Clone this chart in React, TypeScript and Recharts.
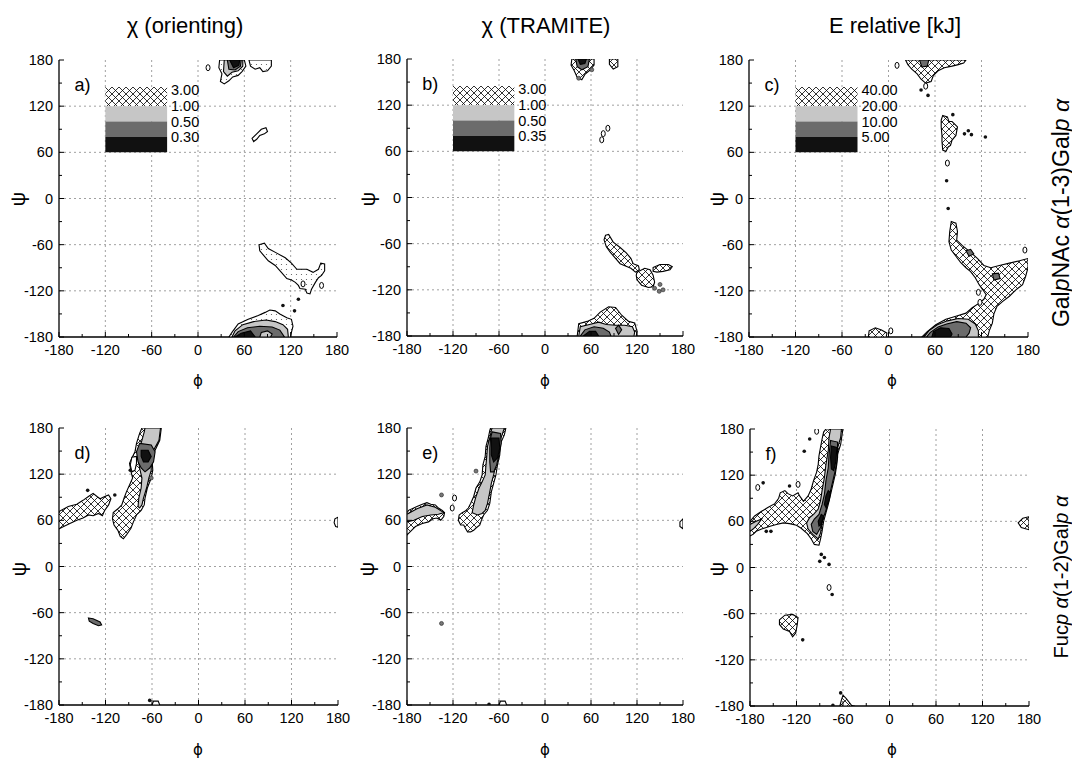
import React from 'react'
import {
  ScatterChart,
  Scatter,
  XAxis,
  YAxis,
  CartesianGrid,
  ReferenceArea,
  Polygon,
} from 'recharts'

type Pt = [number, number]

// axes
const AXIS_TICKS = [-180, -150, -120, -90, -60, -30, 0, 30, 60, 90, 120, 150, 180]
const GRID_LINES = [-120, -60, 0, 60, 120]

const TITLES = ['χ (orienting)', 'χ (TRAMITE)', 'E relative [kJ]']
const TAGS = ['a)', 'b)', 'c)', 'd)', 'e)', 'f)']

// legend (top row only)
const LEGEND_A = ['3.00', '1.00', '0.50', '0.30']
const LEGEND_B = ['3.00', '1.00', '0.50', '0.35']
const LEGEND_C = ['40.00', '20.00', '10.00', '5.00']
const LEGEND_LABEL_Y = [141, 120, 100, 80]
const LEGEND_BANDS: Pt[] = [[120, 145], [100, 120], [80, 100], [60, 80]]
const LEGEND_FILLS = ['hatch', 'light', 'dark', 'black']

// ---- a) chi orienting, GalNAc(1-3)Gal ----
const aTopOuter: Pt[] = [[28,180],[60,180],[62,172],[57,165],[52,160],[45,158],[40,153],[34,149],[29,152],[31,162],[27,170]]
const aTopLight: Pt[] = [[34,180],[58,180],[58,172],[52,166],[44,164],[38,159],[33,165]]
const aTopDark: Pt[] = [[38,180],[56,180],[55,172],[48,167],[40,168]]
const aTopBlack: Pt[] = [[41,180],[54,180],[53,173],[46,170]]
const aTopRight: Pt[] = [[66,180],[95,180],[95,172],[90,166],[84,165],[80,170],[74,168],[68,172]]
const aLoop: Pt[] = [[72,74],[70,78],[76,84],[82,90],[88,92],[90,87],[86,84],[80,82],[76,77]]
const aMid: Pt[] = [[79,-60],[86,-58],[91,-65],[102,-71],[113,-77],[121,-84],[128,-92],[141,-92],[149,-96],[156,-92],[159,-84],[164,-85],[164,-94],[160,-100],[156,-103],[152,-109],[147,-118],[145,-124],[141,-123],[139,-118],[132,-117],[130,-113],[126,-109],[121,-106],[115,-104],[108,-96],[100,-87],[91,-81],[85,-74],[80,-68]]
const aBotOuter: Pt[] = [[40,-180],[44,-174],[52,-163],[65,-157],[78,-152],[87,-148],[93,-145],[100,-146],[106,-150],[115,-155],[121,-157],[123,-166],[121,-174],[120,-180]]
const aBotLight: Pt[] = [[44,-180],[48,-172],[58,-164],[72,-160],[88,-158],[100,-160],[110,-164],[116,-170],[117,-180]]
const aBotDark: Pt[] = [[46,-180],[52,-173],[64,-168],[80,-166],[96,-167],[106,-171],[112,-180]]
const aBotBlack: Pt[] = [[48,-180],[56,-175],[68,-172],[74,-180]]
const aBotHole: Pt[] = [[80,-180],[82,-174],[90,-172],[96,-176],[94,-180]]
const aBlackDots: Pt[] = [[110,-139],[125,-146],[130,-131]]
const aOpenDots: Pt[] = [[13,170],[160,-113],[136,-111]]

// ---- b) chi TRAMITE, GalNAc(1-3)Gal ----
const bTopOuter: Pt[] = [[35,180],[64,180],[64,172],[58,165],[52,160],[48,153],[42,156],[38,165],[34,172]]
const bTopDark: Pt[] = [[40,180],[58,180],[56,170],[48,166],[42,170]]
const bTopBlack: Pt[] = [[43,180],[54,180],[52,174],[46,173]]
const bTopRight: Pt[] = [[84,180],[95,180],[95,170],[89,167],[84,173]]
const bChainA: Pt[] = [[79,-49],[83,-48],[89,-58],[98,-65],[106,-72],[112,-79],[115,-86],[122,-89],[123,-94],[118,-97],[112,-92],[105,-89],[98,-86],[92,-79],[85,-71],[80,-64],[77,-55]]
const bChainB: Pt[] = [[120,-97],[130,-92],[137,-94],[141,-101],[143,-110],[141,-116],[135,-117],[126,-114],[120,-107],[119,-101]]
const bChainC: Pt[] = [[141,-91],[150,-87],[161,-87],[166,-90],[163,-94],[154,-96],[146,-97],[141,-96]]
const bBotOuter: Pt[] = [[42,-180],[44,-164],[55,-161],[64,-157],[72,-149],[83,-142],[92,-143],[100,-153],[109,-161],[117,-163],[120,-174],[119,-180]]
const bBotLight: Pt[] = [[44,-180],[46,-168],[58,-165],[70,-162],[80,-165],[92,-166],[104,-166],[114,-168],[117,-175],[116,-180]]
const bBotDark: Pt[] = [[46,-180],[52,-172],[64,-168],[76,-170],[84,-175],[86,-180]]
const bBotDark2: Pt[] = [[92,-170],[96,-166],[100,-172],[96,-178]]
const bBotBlack: Pt[] = [[50,-180],[58,-174],[66,-174],[70,-180]]
const bGrayDots: Pt[] = [[61,166],[44,155],[143,-118],[150,-113],[149,-122],[154,-120]]
const bOpenDots: Pt[] = [[74,75],[76,83],[82,90]]

// ---- c) E relative, GalNAc(1-3)Gal ----
const cTopOuter: Pt[] = [[22,180],[25,174],[30,168],[37,162],[42,155],[48,150],[55,152],[58,160],[64,166],[72,170],[82,172],[90,174],[97,176],[100,180]]
const cTopGray: Pt[] = [[40,180],[52,180],[50,172],[43,171]]
const cMid: Pt[] = [[70,108],[76,106],[78,100],[82,100],[89,93],[87,82],[82,76],[80,69],[77,67],[74,61],[70,63],[69,74],[69,82],[68,93],[68,102]]
const cLow: Pt[] = [[81,-30],[87,-32],[89,-43],[88,-54],[95,-61],[106,-70],[115,-78],[123,-87],[132,-90],[143,-87],[156,-84],[169,-81],[180,-78],[180,-90],[177,-101],[173,-112],[164,-119],[156,-127],[147,-134],[140,-140],[136,-150],[134,-162],[130,-172],[128,-180],[43,-180],[50,-173],[61,-164],[74,-157],[87,-153],[100,-149],[108,-142],[117,-136],[123,-131],[126,-125],[122,-119],[117,-112],[112,-103],[106,-95],[100,-90],[93,-83],[87,-75],[81,-67],[78,-56],[79,-43]]
const cLowLight: Pt[] = [[46,-180],[52,-172],[63,-164],[76,-159],[90,-156],[103,-157],[112,-163],[116,-172],[116,-180]]
const cLowDark: Pt[] = [[49,-180],[54,-174],[64,-167],[75,-163],[88,-160],[100,-162],[106,-168],[104,-175],[100,-180]]
const cLowBlack: Pt[] = [[56,-180],[58,-173],[67,-168],[78,-169],[82,-176],[80,-180]]
const cPatch1: Pt[] = [[100,-68],[106,-66],[110,-72],[104,-75]]
const cPatch2: Pt[] = [[134,-98],[142,-97],[144,-104],[136,-106]]
const cLeftLoop: Pt[] = [[-26,-180],[-25,-172],[-17,-168],[-9,-171],[-2,-175],[-3,-180]]
const cBlackDots: Pt[] = [[42,141],[51,134],[83,109],[98,84],[103,88],[107,83],[75,23],[125,80],[77,-13]]
const cOpenDots: Pt[] = [[11,173],[48,146],[76,46],[3,-172],[116,-122],[118,-135],[176,-67]]

// ---- d) chi orienting, Fuc(1-2)Gal ----
const dOuter: Pt[] = [[-48,180],[-50,164],[-56,151],[-60,141],[-59,125],[-61,115],[-66,102],[-69,89],[-70,80],[-74,73],[-80,67],[-84,58],[-87,50],[-93,41],[-97,36],[-101,39],[-104,47],[-109,54],[-111,62],[-110,70],[-104,75],[-99,80],[-96,89],[-93,97],[-89,106],[-85,115],[-87,123],[-89,134],[-85,143],[-82,149],[-80,160],[-76,173],[-73,180]]
const dLight: Pt[] = [[-49,180],[-51,164],[-58,151],[-61,141],[-61,125],[-64,115],[-67,102],[-71,89],[-73,80],[-76,76],[-78,78],[-77,89],[-74,102],[-73,115],[-76,128],[-78,141],[-77,151],[-73,164],[-70,175],[-69,180]]
const dDark: Pt[] = [[-76,160],[-61,158],[-56,149],[-58,136],[-63,128],[-69,123],[-74,128],[-78,136],[-80,149]]
const dBlack: Pt[] = [[-74,151],[-65,151],[-61,143],[-65,136],[-71,136],[-74,143]]
const dPocket: Pt[] = [[-86,142],[-80,143],[-80,134],[-82,125],[-86,123],[-88,132]]
const dLeft: Pt[] = [[-180,69],[-179,72],[-168,78],[-157,81],[-149,86],[-142,91],[-136,95],[-131,91],[-127,88],[-121,91],[-116,93],[-113,88],[-116,80],[-121,73],[-124,66],[-129,69],[-136,66],[-142,67],[-149,63],[-157,60],[-166,56],[-174,52],[-180,49]]
const dSmall: Pt[] = [[-142,-67],[-136,-68],[-127,-72],[-125,-76],[-129,-77],[-136,-74],[-141,-71]]
const dEdge: Pt[] = [[180,64],[176,62],[175,57],[177,52],[180,51]]
const dBottomLoop: Pt[] = [[-60,-180],[-58,-175],[-52,-175],[-50,-180]]
const dBlackDots: Pt[] = [[-143,99],[-108,93],[-88,125],[-63,-174]]
const dGrayDots: Pt[] = [[-61,115]]

// ---- e) chi TRAMITE, Fuc(1-2)Gal ----
const eOuter: Pt[] = [[-51,180],[-53,171],[-58,160],[-59,145],[-62,132],[-64,119],[-67,108],[-70,97],[-72,82],[-75,73],[-80,67],[-83,60],[-85,54],[-90,50],[-93,47],[-97,45],[-101,45],[-104,50],[-106,54],[-110,54],[-113,60],[-112,67],[-108,70],[-104,72],[-100,76],[-97,82],[-93,91],[-90,102],[-85,110],[-82,119],[-81,132],[-78,143],[-77,156],[-74,167],[-72,177],[-71,180]]
const eLight: Pt[] = [[-53,180],[-56,171],[-60,160],[-61,145],[-64,132],[-67,119],[-70,108],[-72,97],[-75,82],[-78,73],[-82,69],[-88,67],[-95,70],[-93,80],[-90,91],[-86,102],[-82,110],[-78,119],[-77,132],[-76,143],[-75,156],[-72,167],[-70,177],[-69,180]]
const eDark: Pt[] = [[-69,175],[-58,173],[-57,160],[-60,145],[-63,132],[-67,123],[-71,123],[-72,136],[-72,154],[-71,167]]
const eBlack: Pt[] = [[-70,167],[-60,167],[-59,154],[-62,141],[-67,136],[-70,145],[-70,158]]
const eLeft: Pt[] = [[-180,70],[-178,73],[-167,78],[-160,81],[-154,83],[-149,81],[-143,80],[-139,76],[-134,73],[-131,70],[-132,65],[-136,60],[-141,63],[-146,62],[-152,58],[-160,56],[-169,52],[-176,45],[-180,41]]
const eLeftLight: Pt[] = [[-180,68],[-167,75],[-154,80],[-143,77],[-132,70],[-139,68],[-149,67],[-160,65],[-171,60],[-180,58]]
const eEdge: Pt[] = [[180,62],[176,58],[176,52],[180,49]]
const eBottomLoop: Pt[] = [[-60,-180],[-58,-175],[-52,-175],[-50,-180]]
const eOpenDots: Pt[] = [[-118,89],[-121,76]]
const eGrayDots: Pt[] = [[-135,93],[-90,124],[-135,-74]]
const eBlackDots: Pt[] = [[-73,-179]]

// ---- f) E relative, Fuc(1-2)Gal ----
const fOuter: Pt[] = [[-82,180],[-60,180],[-61,174],[-63,160],[-67,147],[-68,134],[-70,121],[-73,108],[-76,95],[-79,82],[-82,71],[-85,60],[-87,47],[-89,37],[-91,29],[-97,30],[-101,37],[-106,44],[-114,51],[-120,55],[-129,57],[-137,58],[-146,56],[-153,54],[-159,52],[-165,50],[-172,47],[-176,43],[-180,41],[-180,60],[-174,67],[-165,73],[-157,78],[-148,83],[-143,90],[-141,97],[-135,100],[-131,96],[-125,93],[-118,97],[-116,93],[-111,86],[-105,93],[-101,102],[-98,113],[-94,124],[-92,134],[-91,145],[-89,156],[-87,167],[-85,176]]
const fLight: Pt[] = [[-76,180],[-62,180],[-63,169],[-68,152],[-70,134],[-72,121],[-75,108],[-78,95],[-82,82],[-85,71],[-87,58],[-89,45],[-92,37],[-99,43],[-105,50],[-107,58],[-103,65],[-98,69],[-92,76],[-89,87],[-87,100],[-84,117],[-82,134],[-79,152],[-78,169]]
const fDark: Pt[] = [[-76,165],[-67,163],[-67,143],[-70,126],[-73,113],[-76,100],[-79,87],[-82,74],[-86,63],[-89,52],[-94,43],[-99,47],[-101,56],[-97,63],[-91,69],[-87,82],[-84,95],[-82,113],[-79,130],[-78,147]]
const fBlack1: Pt[] = [[-75,158],[-68,156],[-69,139],[-72,126],[-75,128],[-76,143]]
const fBlack2: Pt[] = [[-79,100],[-76,97],[-78,87],[-82,78],[-84,82],[-82,93]]
const fBlack3: Pt[] = [[-88,69],[-85,67],[-88,56],[-91,54],[-92,60]]
const fLeftGray: Pt[] = [[-180,56],[-172,60],[-165,63],[-170,56],[-176,50],[-180,47]]
const fLowLeft: Pt[] = [[-142,-68],[-135,-62],[-125,-61],[-118,-65],[-119,-74],[-121,-85],[-125,-90],[-129,-83],[-137,-80],[-142,-74]]
const fBottom: Pt[] = [[-64,-180],[-62,-172],[-60,-166],[-56,-170],[-49,-179],[-45,-180]]
const fEdge: Pt[] = [[180,66],[172,64],[166,58],[170,52],[180,49]]
const fBlackDots: Pt[] = [[-110,151],[-103,167],[-129,106],[-90,8],[-84,13],[-63,-163],[-73,-179],[-78,4],[-74,-35],[-159,47],[-153,47],[-163,110],[-112,-94],[-88,17]]
const fOpenDots: Pt[] = [[-170,104],[-118,108],[-78,-26],[-94,177]]

const FILL: Record<string, string> = {
  hatch: 'url(#xhatch)',
  stipple: 'url(#stipple)',
  light: '#c6c6c6',
  dark: '#6c6c6c',
  black: '#111',
  white: '#fff',
}

type Layer = [Pt[], string]
interface PanelCfg {
  left: number
  top: number
  w: number
  h: number
  legend?: string[]
  psiX: number
  layers: Layer[]
  black: Pt[]
  open: Pt[]
  gray: Pt[]
}

const PANELS: PanelCfg[] = [
  {
    left: 59, top: 60, w: 278, h: 277, legend: LEGEND_A, psiX: 18,
    layers: [
      [aTopOuter, 'stipple'], [aTopLight, 'light'], [aTopDark, 'dark'], [aTopBlack, 'black'],
      [aTopRight, 'stipple'], [aLoop, 'white'], [aMid, 'stipple'],
      [aBotOuter, 'stipple'], [aBotLight, 'light'], [aBotDark, 'dark'], [aBotBlack, 'black'], [aBotHole, 'light'],
    ],
    black: aBlackDots, open: aOpenDots, gray: [],
  },
  {
    left: 407, top: 59, w: 276, h: 277, legend: LEGEND_B, psiX: 368,
    layers: [
      [bTopOuter, 'hatch'], [bTopDark, 'dark'], [bTopBlack, 'black'], [bTopRight, 'hatch'],
      [bChainA, 'hatch'], [bChainB, 'hatch'], [bChainC, 'hatch'],
      [bBotOuter, 'hatch'], [bBotLight, 'light'], [bBotDark, 'dark'], [bBotDark2, 'dark'], [bBotBlack, 'black'],
    ],
    black: [], open: bOpenDots, gray: bGrayDots,
  },
  {
    left: 749, top: 60, w: 279, h: 277, legend: LEGEND_C, psiX: 717,
    layers: [
      [cTopOuter, 'hatch'], [cTopGray, 'dark'], [cMid, 'hatch'],
      [cLow, 'hatch'], [cLowLight, 'light'], [cLowDark, 'dark'], [cLowBlack, 'black'],
      [cPatch1, 'dark'], [cPatch2, 'dark'], [cLeftLoop, 'hatch'],
    ],
    black: cBlackDots, open: cOpenDots, gray: [],
  },
  {
    left: 59, top: 428, w: 279, h: 277, psiX: 19,
    layers: [
      [dOuter, 'hatch'], [dLight, 'light'], [dDark, 'dark'], [dBlack, 'black'], [dPocket, 'white'],
      [dLeft, 'hatch'], [dSmall, 'dark'], [dEdge, 'white'], [dBottomLoop, 'white'],
    ],
    black: dBlackDots, open: [], gray: dGrayDots,
  },
  {
    left: 407, top: 428, w: 276, h: 277, psiX: 367,
    layers: [
      [eOuter, 'hatch'], [eLight, 'light'], [eDark, 'dark'], [eBlack, 'black'],
      [eLeft, 'hatch'], [eLeftLight, 'light'], [eEdge, 'white'], [eBottomLoop, 'white'],
    ],
    black: eBlackDots, open: eOpenDots, gray: eGrayDots,
  },
  {
    left: 750, top: 429, w: 279, h: 277, psiX: 717,
    layers: [
      [fOuter, 'hatch'], [fLight, 'light'], [fDark, 'dark'], [fBlack1, 'black'], [fBlack2, 'black'], [fBlack3, 'black'],
      [fLeftGray, 'light'], [fLowLeft, 'hatch'], [fBottom, 'hatch'], [fEdge, 'hatch'],
    ],
    black: fBlackDots, open: fOpenDots, gray: [],
  },
]

const Y_AXIS_W = 45
const X_AXIS_H = 30
const M_TOP = 8
const M_RIGHT = 16
const FONT = '"Liberation Sans", Arial, Helvetica, sans-serif'
const FRAME = { stroke: '#000', strokeWidth: 1.3 }

const toXY = (pts: Pt[]) => pts.map(([x, y]) => ({ x, y }))

const isMajor = (v: number) => v % 60 === 0

const BottomTick = (p: any) => {
  const v = p.payload.value
  return (
    <g>
      <line x1={p.x} x2={p.x} y1={p.y} y2={p.y - (isMajor(v) ? 5 : 3)} stroke="#000" />
      {isMajor(v) && (
        <text x={p.x} y={p.y + 18} textAnchor="middle" fontSize={14.5} fill="#000">{v}</text>
      )}
    </g>
  )
}

const TopTick = (p: any) => (
  <line x1={p.x} x2={p.x} y1={p.y} y2={p.y + (isMajor(p.payload.value) ? 5 : 3)} stroke="#000" />
)

const LeftTick = (p: any) => {
  const v = p.payload.value
  return (
    <g>
      <line x1={p.x} x2={p.x + (isMajor(v) ? 5 : 3)} y1={p.y} y2={p.y} stroke="#000" />
      {isMajor(v) && (
        <text x={p.x - 6} y={p.y + 5} textAnchor="end" fontSize={14.5} fill="#000">{v}</text>
      )}
    </g>
  )
}

const RightTick = (p: any) => (
  <line x1={p.x} x2={p.x - (isMajor(p.payload.value) ? 5 : 3)} y1={p.y} y2={p.y} stroke="#000" />
)

const hidden = () => <g />

function Panel({ cfg, tag }: { cfg: PanelCfg; tag: string }) {
  const width = Y_AXIS_W + cfg.w + M_RIGHT
  const height = M_TOP + cfg.h + X_AXIS_H
  const legendLabels = (cfg.legend || []).map((label, i) => ({ x: -35, y: LEGEND_LABEL_Y[i], label }))
  return (
    <div style={{ position: 'absolute', left: cfg.left - Y_AXIS_W, top: cfg.top - M_TOP }}>
      <ScatterChart width={width} height={height} margin={{ top: M_TOP, right: M_RIGHT, bottom: 0, left: 0 }}>
        <CartesianGrid
          horizontalValues={GRID_LINES}
          verticalValues={GRID_LINES}
          stroke="#a0a0a0"
          strokeDasharray="2 3"
        />
        <XAxis dataKey="x" type="number" domain={[-180, 180]} ticks={AXIS_TICKS} interval={0}
          tickSize={0} tickMargin={0} tick={BottomTick} height={X_AXIS_H}
          axisLine={FRAME} allowDataOverflow />
        <XAxis xAxisId="top" orientation="top" dataKey="x" type="number" domain={[-180, 180]} ticks={AXIS_TICKS}
          interval={0} tickSize={0} tickMargin={0} tick={TopTick} height={0}
          axisLine={FRAME} allowDataOverflow />
        <YAxis dataKey="y" type="number" domain={[-180, 180]} ticks={AXIS_TICKS} interval={0}
          tickSize={0} tickMargin={0} tick={LeftTick} width={Y_AXIS_W}
          axisLine={FRAME} allowDataOverflow />
        <YAxis yAxisId="right" orientation="right" dataKey="y" type="number" domain={[-180, 180]} ticks={AXIS_TICKS}
          interval={0} tickSize={0} tickMargin={0} tick={RightTick} width={0}
          axisLine={FRAME} allowDataOverflow />

        {cfg.legend &&
          LEGEND_BANDS.map(([y1, y2], i) => (
            <ReferenceArea key={'lg' + i} x1={-120} x2={-40} y1={y1} y2={y2}
              fill={FILL[LEGEND_FILLS[i]]} fillOpacity={1} stroke="none" />
          ))}

        {cfg.layers.map(([pts, fill], i) => (
          <Scatter
            key={'ly' + i}
            data={toXY(pts)}
            isAnimationActive={false}
            shape={hidden}
            line={(lp: any) => (
              <Polygon points={lp.points} fill={FILL[fill]} stroke="#000" strokeWidth={1.1} />
            )}
          />
        ))}

        <Scatter data={toXY(cfg.gray)} isAnimationActive={false}
          shape={(p: any) => <circle cx={p.cx} cy={p.cy} r={2} fill="#777" stroke="#222" strokeWidth={0.6} />} />
        <Scatter data={toXY(cfg.open)} isAnimationActive={false}
          shape={(p: any) => <ellipse cx={p.cx} cy={p.cy} rx={2} ry={3} fill="#fff" stroke="#000" strokeWidth={1} />} />
        <Scatter data={toXY(cfg.black)} isAnimationActive={false}
          shape={(p: any) => <circle cx={p.cx} cy={p.cy} r={1.8} fill="#111" />} />

        <Scatter data={legendLabels} isAnimationActive={false}
          shape={(p: any) => (
            <text x={p.cx} y={p.cy + 5} fontSize={14.5} fill="#000">{p.payload.label}</text>
          )} />
        <Scatter data={[{ x: -160, y: 147, label: tag }]} isAnimationActive={false}
          shape={(p: any) => (
            <text x={p.cx} y={p.cy + 6} fontSize={18} fill="#000">{p.payload.label}</text>
          )} />
      </ScatterChart>
    </div>
  )
}

const abs = (extra: React.CSSProperties): React.CSSProperties => ({
  position: 'absolute',
  whiteSpace: 'nowrap',
  ...extra,
})

export default function App() {
  const titleX = [185, 546, 895]
  const phiX = [198, 545, 892]
  return (
    <div style={{ position: 'absolute', left: 0, top: 0, width: 1072, height: 759, background: '#fff', fontFamily: FONT, color: '#000' }}>
      <svg width={0} height={0} style={{ position: 'absolute' }}>
        <defs>
          <pattern id="xhatch" width={7} height={7} patternUnits="userSpaceOnUse">
            <rect width={7} height={7} fill="#fff" />
            <path d="M0,0 L7,7 M7,0 L0,7" stroke="#000" strokeWidth={0.8} />
          </pattern>
          <pattern id="stipple" width={5} height={5} patternUnits="userSpaceOnUse">
            <rect width={5} height={5} fill="#fff" />
            <circle cx={2.5} cy={2.5} r={0.6} fill="#555" />
          </pattern>
        </defs>
      </svg>

      {TITLES.map((t, i) => (
        <div key={t} style={abs({ left: titleX[i], top: 26, transform: 'translate(-50%,-50%)', fontSize: 22 })}>{t}</div>
      ))}

      {PANELS.map((cfg, i) => (
        <Panel key={i} cfg={cfg} tag={TAGS[i]} />
      ))}

      {PANELS.map((cfg, i) => (
        <div key={'psi' + i} style={abs({ left: cfg.psiX, top: i < 3 ? 199 : 569, transform: 'translate(-50%,-50%) rotate(-90deg)', fontSize: 20 })}>ψ</div>
      ))}
      {PANELS.map((cfg, i) => (
        <div key={'phi' + i} style={abs({ left: phiX[i % 3], top: i < 3 ? 381 : 750, transform: 'translate(-50%,-50%)', fontSize: 15, fontFamily: '"DejaVu Sans", sans-serif' })}>ϕ</div>
      ))}

      <div style={abs({ left: 1061, top: 213, transform: 'translate(-50%,-50%) rotate(-90deg)', fontSize: 23 })}>
        Gal<i>p</i>NAc <i>α</i>(1-3)Gal<i>p</i> <i>α</i>
      </div>
      <div style={abs({ left: 1061, top: 577, transform: 'translate(-50%,-50%) rotate(-90deg)', fontSize: 20 })}>
        Fuc<i>p</i> <i>α</i>(1-2)Gal<i>p</i> <i>α</i>
      </div>
    </div>
  )
}
